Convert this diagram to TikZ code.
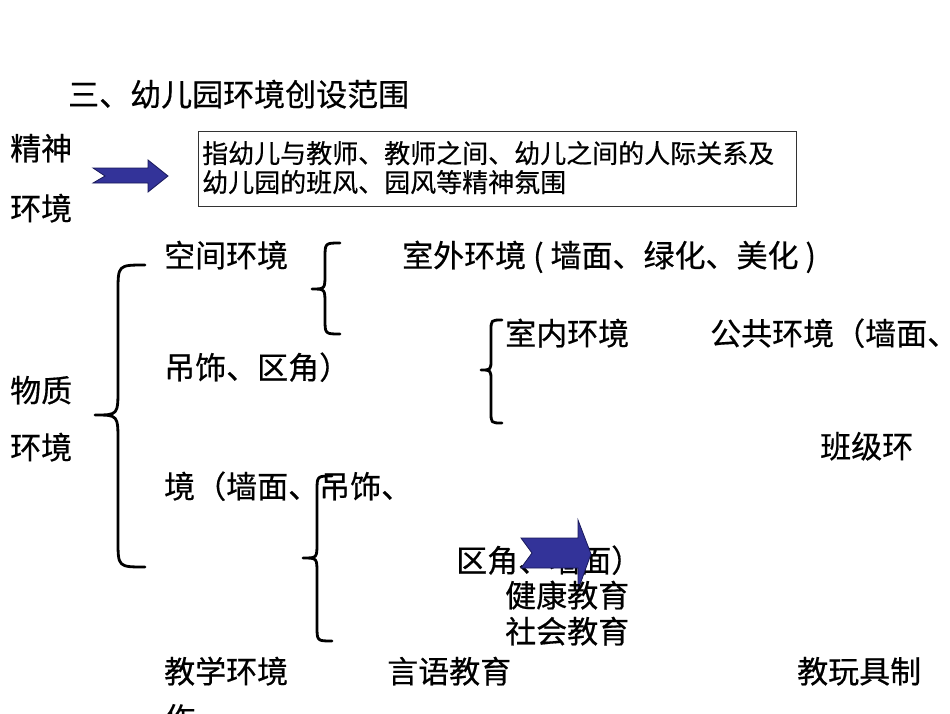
\documentclass[tikz,border=0pt]{standalone}
\usepackage{fontspec}
\newfontfamily\cjk[FakeBold=0.5]{Noto Sans CJK SC}
\definecolor{arrowblue}{RGB}{51,51,153}
\definecolor{arrowedge}{RGB}{25,25,90}
\tikzset{
  big/.style={anchor=base west, inner sep=0pt, font=\cjk\fontsize{31}{37}\selectfont},
  small/.style={anchor=base west, inner sep=0pt, font=\cjk\fontsize{26}{30}\selectfont},
  bracestyle/.style={line width=2.8pt, line cap=round, line join=round},
  blockarrow/.style={fill=arrowblue, draw=arrowedge, line width=0.8pt, line join=miter},
  descbox/.style={draw=black!80, line width=1pt}
}
\newcommand\curlybrace[6]{%
  \pgfmathsetmacro\rr{#1-#2}%
  \draw[bracestyle] (#1,#4) .. controls (#2,#4) .. (#2,#4+\rr) -- (#2,#5-\rr)
    .. controls (#2,#5) .. (#3,#5) .. controls (#2,#5) .. (#2,#5+\rr)
    -- (#2,#6-\rr) .. controls (#2,#6) .. (#1,#6);}
\begin{document}
\begin{tikzpicture}[x=1pt,y=-1pt]
\useasboundingbox (0,0) rectangle (950,713);
\fill[white] (0,0) rectangle (950,713);

% title
\node[big] (title) at (68,106) {三、幼儿园环境创设范围};

% spiritual environment
\node[big] (jing1) at (10,160) {精神};
\node[big] (jing2) at (10,220) {环境};
\draw[blockarrow] (93,168) -- (148,168) -- (148,160) -- (168,176) -- (148,192)
  -- (148,183) -- (93,183) -- (105,176) -- cycle;
\draw[descbox] (198,131) rectangle (796,206);
\node[small] (d1) at (202,163) {指幼儿与教师、教师之间、幼儿之间的人际关系及};
\node[small] (d2) at (202,192) {幼儿园的班风、园风等精神氛围};

% material environment
\node[big] (wz1) at (10,402) {物质};
\node[big] (wz2) at (10,459) {环境};
\curlybrace{145}{118}{95}{265}{415}{567}

\node[big] (kj) at (164,267) {空间环境};
\curlybrace{340}{325}{312}{243}{289}{334}
\node[big] (sw) at (402,267) {室外环境 ( 墙面、绿化、美化 )};

\curlybrace{502}{491}{481}{320}{370}{423}
\node[big] (sn) at (505,345) {室内环境};
\node[big] (gg) at (710,345) {公共环境（墙面、};
\node[big] (dq) at (164,379) {吊饰、区角）};
\node[big] (bj) at (820,458) {班级环};
\node[big] (jm) at (164,498) {境（墙面、吊饰、};

\curlybrace{332}{317}{303}{476}{558}{641}
\node[big] (qj) at (456,572) {区角、墙面）};
\draw[blockarrow] (521,538) -- (578,538) -- (578,520) -- (591,554) -- (578,590)
  -- (578,568) -- (521,568) -- (532,553) -- cycle;

\node[big] (jk) at (505,607) {健康教育};
\node[big] (sh) at (505,643) {社会教育};
\node[big] (jx) at (164,683) {教学环境};
\node[big] (yy) at (387,683) {言语教育};
\node[big] (wj) at (797,683) {教玩具制};
\node[big] (zuo) at (164,730) {作};
\end{tikzpicture}
\end{document}
